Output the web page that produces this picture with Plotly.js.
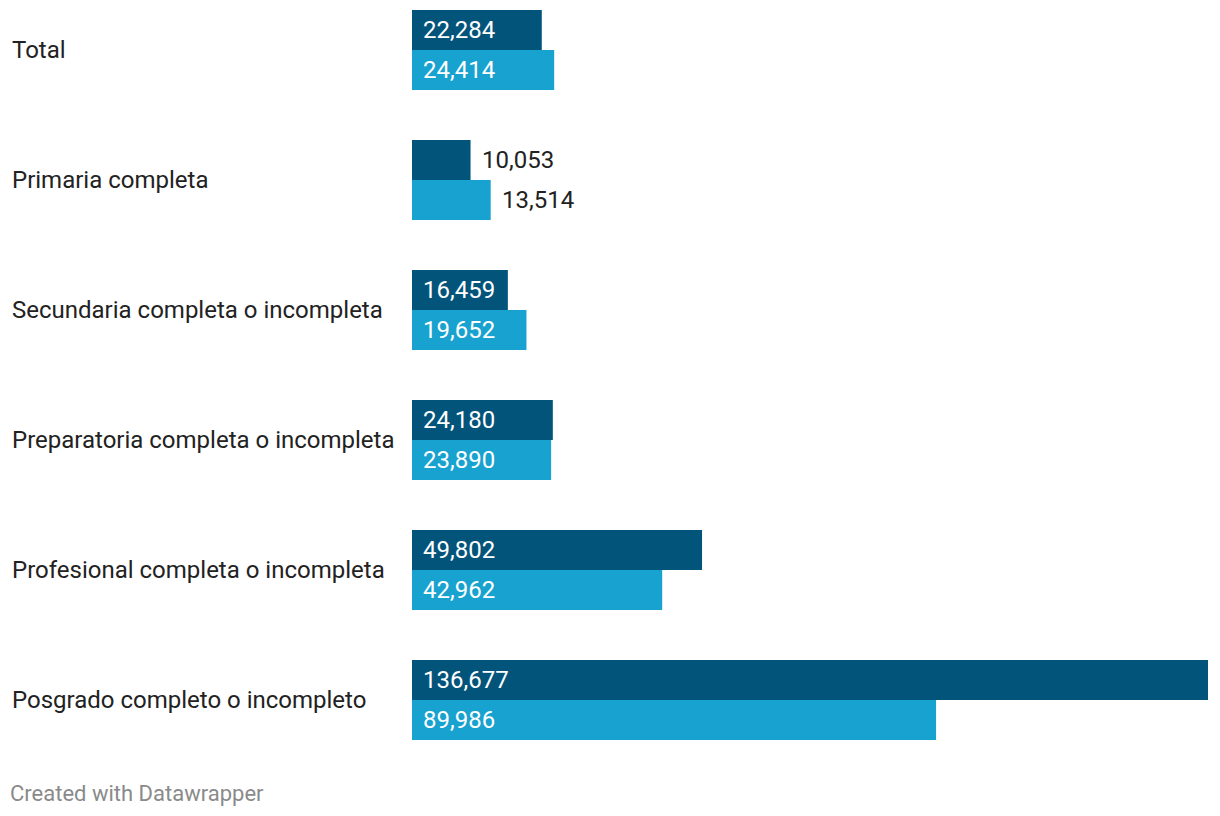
<!DOCTYPE html>
<html><head><meta charset="utf-8">
<script src="https://cdn.plot.ly/plotly-3.0.1.min.js"></script>
<style>body{margin:0;background:#fff}#chart{width:1220px;height:816px}</style>
</head><body><div id="chart"></div>
<script>
const categories = ["Total","Primaria completa","Secundaria completa o incompleta","Preparatoria completa o incompleta","Profesional completa o incompleta","Posgrado completo o incompleto"];
const seriesDark = [22284,10053,16459,24180,49802,136677];
const seriesLight = [24414,13514,19652,23890,42962,89986];
const seriesNames = ["Serie 1","Serie 2"];

const FONT = "Roboto, 'Noto Sans', sans-serif";
const darkColor = "#03547b", lightColor = "#18a2cf";
const fmt = v => v.toLocaleString("en-US");
const xMax = Math.max(...seriesDark, ...seriesLight);
const plotW = 1220 - 412 - 12;

const traces = [
  {type:"bar", orientation:"h", name:seriesNames[0], y:categories, x:seriesDark, marker:{color:darkColor}, hoverinfo:"x"},
  {type:"bar", orientation:"h", name:seriesNames[1], y:categories, x:seriesLight, marker:{color:lightColor}, hoverinfo:"x"}
];

const annotations = [];
function addLabels(vals, yshift) {
  vals.forEach((v, i) => {
    const label = fmt(v);
    const textW = label.length * 12;
    const barW = v / xMax * plotW;
    const inside = barW > textW + 20;
    annotations.push({
      x: inside ? 0 : v, y: categories[i], xref:"x", yref:"y",
      text: label, showarrow:false, xanchor:"left", yanchor:"middle",
      xshift: inside ? 9 : 9, yshift: yshift,
      font:{family:FONT, size:24, color: inside ? "#ffffff" : "#222222"}
    });
  });
}
addLabels(seriesDark, 20);
addLabels(seriesLight, -20);
categories.forEach(c => annotations.push({
  x:0, y:c, xref:"paper", yref:"y", text:c, showarrow:false, xanchor:"left", yanchor:"middle",
  xshift:-402, font:{family:FONT, size:24, color:"#222222"}
}));
annotations.push({x:0, y:0, xref:"paper", yref:"paper", text:"Created with Datawrapper", showarrow:false,
  xanchor:"left", yanchor:"middle", xshift:-404, yshift:-53, font:{family:FONT, size:22, color:"#8a8a8a"}});

const layout = {
  width:1220, height:816,
  margin:{l:412, r:12, t:10, b:76, pad:0},
  paper_bgcolor:"#fff", plot_bgcolor:"#fff",
  barmode:"group", bargap:50/130, bargroupgap:0,
  showlegend:false,
  xaxis:{range:[0, xMax], visible:false, fixedrange:true},
  yaxis:{type:"category", range:[categories.length - 1 + 40/130, -40/130], visible:false, fixedrange:true},
  annotations: annotations,
  font:{family:FONT}
};
Plotly.newPlot("chart", traces, layout, {displayModeBar:false, staticPlot:true});
</script></body></html>
